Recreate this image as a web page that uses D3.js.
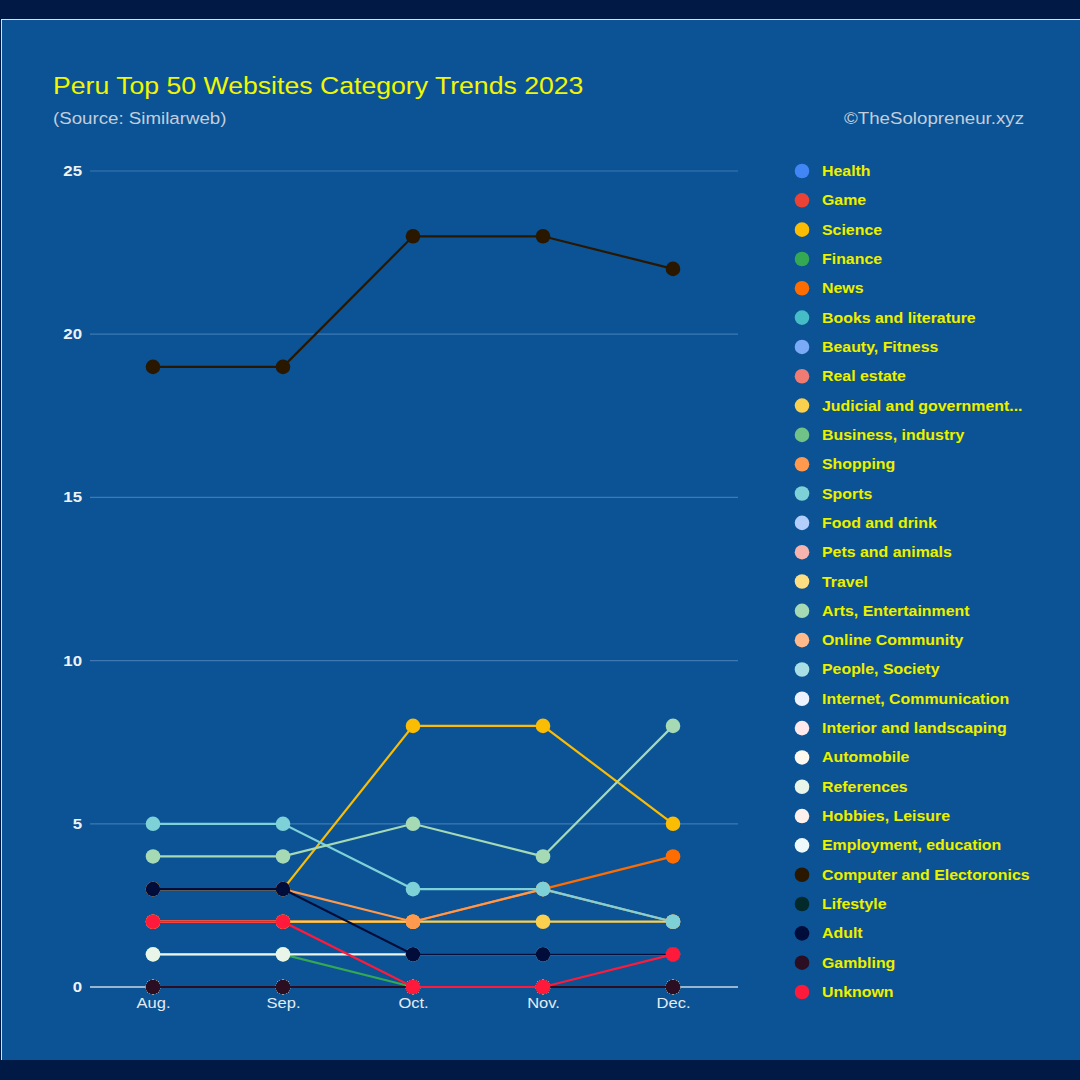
<!DOCTYPE html>
<html><head><meta charset="utf-8">
<script src="https://cdn.jsdelivr.net/npm/d3@7"></script>
<style>
html,body{margin:0;padding:0;background:#001a45;}
svg{display:block;}
</style></head>
<body>
<svg id="c" width="1080" height="1080"></svg>
<script>
const months = ["Aug.","Sep.","Oct.","Nov.","Dec."];
const categories = ["Health","Game","Science","Finance","News","Books and literature","Beauty, Fitness","Real estate","Judicial and government...","Business, industry","Shopping","Sports","Food and drink","Pets and animals","Travel","Arts, Entertainment","Online Community","People, Society","Internet, Communication","Interior and landscaping","Automobile","References","Hobbies, Leisure","Employment, education","Computer and Electoronics","Lifestyle","Adult","Gambling","Unknown"];
const colors = ["#4285f4","#ea4335","#fbbc04","#34a853","#ff6d01","#46bdc6","#7baaf7","#f07b72","#fcd04f","#71c287","#ff994d","#7ed1d7","#b3cefb","#f7b4ae","#fdde83","#a5dab5","#ffb98a","#a9dfe4","#ecf2fe","#fde9ec","#fff8ef","#eaf5ea","#fff0ec","#eef9fb","#2a1700","#032a2b","#000c3a","#2b0e22","#ff1a3b"];
const values = [
 [0,0,0,0,0],      // Health
 [0,0,0,0,0],      // Game
 [3,3,8,8,5],      // Science
 [1,1,0,0,0],      // Finance
 [2,2,2,3,4],      // News
 [0,0,0,0,0],      // Books
 [0,0,0,0,0],      // Beauty
 [0,0,0,0,0],      // Real estate
 [2,2,2,2,2],      // Judicial
 [0,0,0,0,0],      // Business
 [3,3,2,3,2],      // Shopping
 [5,5,3,3,2],      // Sports
 [0,0,0,0,0],      // Food
 [0,0,0,0,0],      // Pets
 [0,0,0,0,0],      // Travel
 [4,4,5,4,8],      // Arts
 [0,0,0,0,0],      // Online Community
 [0,0,0,0,0],      // People
 [0,0,0,0,0],      // Internet
 [0,0,0,0,0],      // Interior
 [0,0,0,0,0],      // Automobile
 [1,1,1,1,1],      // References
 [0,0,0,0,0],      // Hobbies
 [0,0,0,0,0],      // Employment
 [19,19,23,23,22], // Computer
 [0,0,0,0,0],      // Lifestyle
 [3,3,1,1,1],      // Adult
 [0,0,0,0,0],      // Gambling
 [2,2,0,0,1]       // Unknown
];
const yTicks = [0,5,10,15,20,25];

const FONT = "Liberation Sans, Arial, sans-serif";
const svg = d3.select("#c");
svg.append("rect").attr("x",0).attr("y",0).attr("width",1080).attr("height",1080).attr("fill","#001a45");
svg.append("rect").attr("x",1).attr("y",19).attr("width",1079).attr("height",1041).attr("fill","#d8e0ea");
svg.append("rect").attr("x",2).attr("y",20).attr("width",1078).attr("height",1040).attr("fill","#0b5394");

function stretchedText(parent, x, y, sx, txt){
  return parent.append("text").attr("transform",`translate(${x},${y}) scale(${sx},1)`).text(txt);
}
stretchedText(svg,53,94,1.11,"Peru Top 50 Websites Category Trends 2023")
  .attr("fill","#f2f600").style("font-family",FONT).style("font-size","24px");
stretchedText(svg,53,124,1.1,"(Source: Similarweb)")
  .attr("fill","#c3cddb").style("font-family",FONT).style("font-size","17px");
stretchedText(svg,1024,124,1.1,"©TheSolopreneur.xyz").attr("text-anchor","end")
  .attr("fill","#c3cddb").style("font-family",FONT).style("font-size","17px");

const x = d3.scalePoint().domain(months).range([88,738]).padding(0.5);
const y = d3.scaleLinear().domain([0,25]).range([987,171]);

const g = svg.append("g");
g.selectAll("line.grid").data(yTicks.filter(d=>d>0)).join("line")
  .attr("x1",90).attr("x2",738).attr("y1",d=>y(d)).attr("y2",d=>y(d))
  .attr("stroke","#3f78b2").attr("stroke-width",1.2);

const yAxis = g.append("g").attr("transform","translate(82,0)")
  .call(d3.axisLeft(y).tickValues(yTicks).tickSize(0).tickPadding(0));
yAxis.select(".domain").remove();
yAxis.selectAll("text").attr("fill","#eef2f7").style("font-family",FONT)
  .style("font-size","14px").style("font-weight","bold").attr("text-anchor","end")
  .attr("transform","scale(1.2,1)");

const xAxis = g.append("g").attr("transform","translate(0,987)")
  .call(d3.axisBottom(x).tickSize(0).tickPadding(11));
xAxis.select(".domain").attr("stroke","#c8d6e6").attr("stroke-width",1.5).attr("d","M90,0H738");
xAxis.selectAll("text").attr("fill","#e4eaf2").style("font-family",FONT)
  .style("font-size","14px").attr("transform","scale(1.18,1)");

const line = d3.line().x((d,i)=>x(months[i])).y(d=>y(d));
const series = categories.map((c,i)=>({name:c,color:colors[i],vals:values[i]}));
const sg = g.selectAll("g.series").data(series).join("g");
sg.append("path").attr("d",d=>line(d.vals)).attr("fill","none").attr("stroke",d=>d.color).attr("stroke-width",2.2);
sg.selectAll("circle").data(d=>d.vals.map((v,i)=>({v,i,color:d.color}))).join("circle")
  .attr("cx",d=>x(months[d.i])).attr("cy",d=>y(d.v)).attr("r",7.3).attr("fill",d=>d.color);

const lg = svg.append("g");
const ly = d3.scalePoint().domain(categories).range([171,992]);
const li = lg.selectAll("g").data(series).join("g").attr("transform",d=>`translate(0,${ly(d.name)})`);
li.append("circle").attr("cx",802).attr("cy",0).attr("r",7.3).attr("fill",d=>d.color);
li.append("text").attr("transform","translate(822,5) scale(1.137,1)").attr("fill","#eaf200")
  .style("font-family",FONT).style("font-size","14px").style("font-weight","bold")
  .style("paint-order","stroke").attr("stroke","#3a4a30").attr("stroke-width",0.7).attr("stroke-opacity",0.5)
  .text(d=>d.name);
</script>
</body></html>
